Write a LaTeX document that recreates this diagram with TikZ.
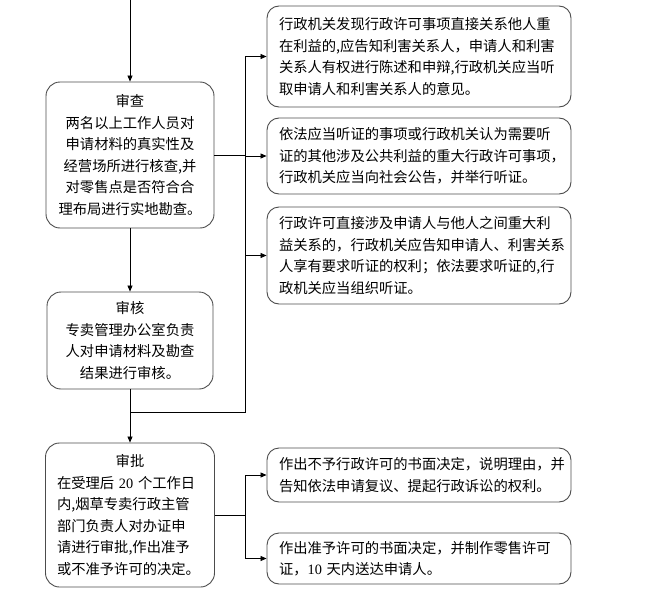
\documentclass[tikz,border=0pt]{standalone}
\usepackage{fontspec}
\newfontfamily\cjk{Noto Sans CJK SC}
\newfontfamily\latn{Liberation Serif}
\usetikzlibrary{arrows.meta}
\begin{document}
\begin{tikzpicture}[x=1pt,y=-1pt,
 box/.style={draw=black!70, line width=0.9pt, rounded corners=14pt, font=\cjk\fontsize{14.3}{21.5}\selectfont, inner sep=0pt},
 lbox/.style={box, align=center},
 rbox/.style={box, rounded corners=12pt, text width=280pt, align=left, minimum width=304pt},
 arr/.style={-{Triangle[length=6pt,width=5pt]}, line width=0.8pt},
 ln/.style={line width=0.8pt}]
\useasboundingbox (0,0) rectangle (651,597);
% left column
\node[lbox, minimum width=168pt, minimum height=146pt] (shencha) at (130,155)
 {审查\\两名以上工作人员对\\申请材料的真实性及\\经营场所进行核查,并\\对零售点是否符合合\\理布局进行实地勘查。};
\node[lbox, minimum width=166pt, minimum height=97pt] (shenhe) at (130,340.5)
 {审核\\专卖管理办公室负责\\人对申请材料及勘查\\结果进行审核。};
\node[box, minimum width=169pt, minimum height=144pt, text width=146pt, align=left] (shenpi) at (130,515)
 {\makebox[146pt]{审批}\\在受理后 {\latn 20} 个工作日\\内,烟草专卖行政主管\\部门负责人对办证申\\请进行审批,作出准予\\或不准予许可的决定。};
% right column
\node[rbox, minimum height=101pt] (b1) at (419,56.5)
 {行政机关发现行政许可事项直接关系他人重\\在利益的,应告知利害关系人，申请人和利害\\关系人有权进行陈述和申辩,行政机关应当听\\取申请人和利害关系人的意见。};
\node[rbox, minimum height=76pt] (b2) at (419,156)
 {依法应当听证的事项或行政机关认为需要听\\证的其他涉及公共利益的重大行政许可事项，\\行政机关应当向社会公告，并举行听证。};
\node[rbox, minimum height=97pt] (b3) at (419,255.5)
 {行政许可直接涉及申请人与他人之间重大利\\益关系的，行政机关应告知申请人、利害关系\\人享有要求听证的权利；依法要求听证的,行\\政机关应当组织听证。};
\node[rbox, minimum height=54pt] (b4) at (419,475)
 {作出不予行政许可的书面决定，说明理由，并\\告知依法申请复议、提起行政诉讼的权利。};
\node[rbox, minimum height=51pt] (b5) at (419,558.5)
 {作出准予许可的书面决定，并制作零售许可\\证，{\latn 10} 天内送达申请人。};
% connectors
\coordinate (top) at (130,0);
\coordinate (bx) at (245,0);
\coordinate (j1) at (130,412);
\coordinate (bb) at (245,412);
\draw[arr] (top) -- (shencha.north);
\draw[arr] (shencha.south) -- (shencha.south |- shenhe.north);
\draw[arr] (shenhe.south) -- (shenhe.south |- shenpi.north);
\draw[ln] (b1.west -| bx) -- (bb) -- (j1);
\draw[ln] (shencha.east) -- (shencha.east -| bx);
\draw[arr] (b1.west -| bx) -- (b1.west);
\draw[arr] (b2.west -| bx) -- (b2.west);
\draw[arr] (b3.west -| bx) -- (b3.west);
\draw[ln] (shenpi.east) -- (shenpi.east -| bx);
\draw[ln] (b4.west -| bx) -- (b5.west -| bx);
\draw[arr] (b4.west -| bx) -- (b4.west);
\draw[arr] (b5.west -| bx) -- (b5.west);
\end{tikzpicture}
\end{document}
